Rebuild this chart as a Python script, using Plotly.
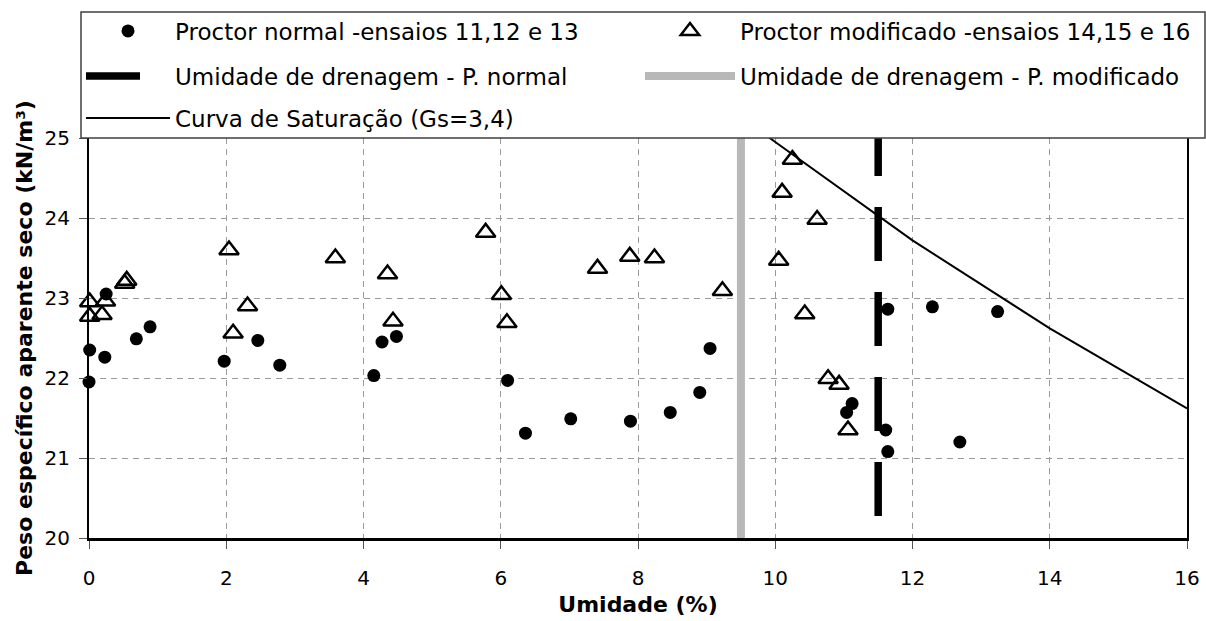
import plotly.graph_objects as go

# ---------------- data ----------------
normal_w = [0.00, 0.01, 0.23, 0.25, 0.69, 0.89, 1.97, 2.46, 2.78, 4.15, 4.27, 4.48,
            6.10, 6.36, 7.02, 7.89, 8.47, 8.90, 9.05, 11.04, 11.12, 11.61, 11.64, 11.64,
            12.29, 12.69, 13.24]
normal_g = [21.95, 22.35, 22.26, 23.05, 22.49, 22.64, 22.21, 22.47, 22.16, 22.03, 22.45, 22.52,
            21.97, 21.31, 21.49, 21.46, 21.57, 21.82, 22.37, 21.57, 21.68, 21.35, 21.08, 22.86,
            22.89, 21.20, 22.83]

modif_w = [0.01, 0.01, 0.19, 0.24, 0.52, 0.55, 2.04, 2.10, 2.31, 3.59, 4.35, 4.43,
           5.78, 6.01, 6.09, 7.41, 7.88, 8.24, 9.23, 10.05, 10.10, 10.25, 10.43, 10.61,
           10.77, 10.93, 11.06]
modif_g = [22.95, 22.77, 22.79, 22.96, 23.18, 23.22, 23.60, 22.56, 22.90, 23.50, 23.30, 22.71,
           23.82, 23.04, 22.69, 23.37, 23.52, 23.50, 23.09, 23.47, 24.32, 24.73, 22.80, 23.98,
           21.99, 21.92, 21.35]

drain_normal_w = [11.5, 11.5]
drain_normal_g = [25.2, 19.88]
drain_modif_w = [9.5, 9.5]
drain_modif_g = [25.2, 19.88]

sat_w = [8, 10, 12, 14, 16]
sat_g = [26.2, 24.95, 23.72, 22.62, 21.62]

x_ticks = [0, 2, 4, 6, 8, 10, 12, 14, 16]
y_ticks = [20, 21, 22, 23, 24, 25]

names = ["Proctor normal -ensaios 11,12 e 13",
         "Proctor modificado -ensaios 14,15 e 16",
         "Umidade de drenagem - P. normal",
         "Umidade de drenagem - P. modificado",
         "Curva de Saturação (Gs=3,4)"]

FONT = "DejaVu Sans"

# ---------------- layout helpers ----------------
W, H = 1206, 621
L, R, T, B = 89, 1187, 138, 538
PW, PH = R - L, B - T


def px(xp):
    return (xp - L) / PW


def py(yp):
    return (B - yp) / PH


fig = go.Figure()

fig.add_trace(go.Scatter(
    x=drain_modif_w, y=drain_modif_g, mode="lines", name=names[3],
    line=dict(color="#b8b8b8", width=8), legend="legend4"))
fig.add_trace(go.Scatter(
    x=drain_normal_w, y=drain_normal_g, mode="lines", name=names[2],
    line=dict(color="black", width=7.5, dash="54px,31px"), legend="legend3"))
fig.add_trace(go.Scatter(
    x=sat_w, y=sat_g, mode="lines", name=names[4],
    line=dict(color="black", width=2), legend="legend5"))
fig.add_trace(go.Scatter(
    x=normal_w, y=normal_g, mode="markers", name=names[0], showlegend=True,
    marker=dict(symbol="circle", size=13, color="black"), legend="legend", cliponaxis=False))
fig.add_trace(go.Scatter(
    x=modif_w, y=modif_g, mode="markers", name=names[1], showlegend=True,
    marker=dict(symbol="triangle-up-open", size=17, color="black",
                line=dict(width=2.5, color="black")), legend="legend2", cliponaxis=False))

leg_common = dict(bgcolor="rgba(0,0,0,0)", borderwidth=0, font=dict(family=FONT, size=23, color="black"),
                  xanchor="left", yanchor="middle", orientation="v", visible=True)

fig.update_layout(
    width=W, height=H,
    showlegend=True,
    margin=dict(l=L, r=W - R, t=T, b=H - B, pad=0, autoexpand=False),
    paper_bgcolor="white", plot_bgcolor="white",
    font=dict(family=FONT, color="black"),
    legend=dict(x=px(81), y=py(31), itemwidth=84, **leg_common),
    legend2=dict(x=px(640), y=py(31), itemwidth=90, **leg_common),
    legend3=dict(x=px(81), y=py(76), itemwidth=84, **leg_common),
    legend4=dict(x=px(640), y=py(76), itemwidth=90, **leg_common),
    legend5=dict(x=px(81), y=py(118), itemwidth=84, **leg_common),
    xaxis=dict(range=[0, 16], tickvals=x_ticks, ticktext=[str(v) for v in x_ticks],
               automargin=False,
               showgrid=True, gridcolor="#9a9a9a", griddash="6px,5px", gridwidth=1,
               showline=True, linecolor="black", linewidth=3, mirror=True,
               ticks="outside", ticklen=8, tickcolor="#555", tickwidth=1,
               tickfont=dict(family=FONT, size=20), ticklabelstandoff=12,
               zeroline=False,
               title=dict(text="<b>Umidade (%)</b>", font=dict(family=FONT, size=22), standoff=8)),
    yaxis=dict(range=[20, 25], tickvals=y_ticks, ticktext=[str(v) for v in y_ticks],
               automargin=False,
               showgrid=True, gridcolor="#9a9a9a", griddash="6px,5px", gridwidth=1,
               showline=True, linecolor="black", linewidth=2, mirror=True,
               ticks="outside", ticklen=8, tickcolor="#555", tickwidth=1,
               tickfont=dict(family=FONT, size=20), ticklabelstandoff=5,
               zeroline=False,
               title=dict(text="<b>Peso específico aparente seco (kN/m³)</b>",
                          font=dict(family=FONT, size=22), standoff=6)),
    shapes=[dict(type="rect", xref="paper", yref="paper",
                 x0=px(81), x1=px(1205), y0=py(138), y1=py(12),
                 fillcolor="white", line=dict(color="#404040", width=1.5), layer="above")],
)

fig.write_html("out.html")
